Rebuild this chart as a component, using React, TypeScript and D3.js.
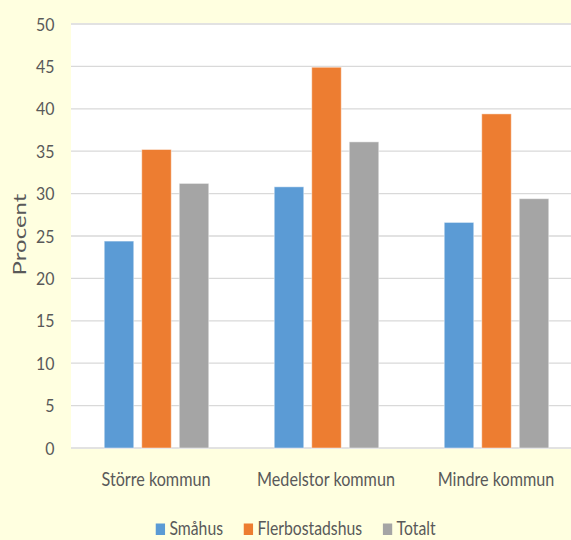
import React, { useEffect, useRef } from "react";
import * as d3 from "d3";

const categories = ["Större kommun", "Medelstor kommun", "Mindre kommun"];
const seriesNames = ["Småhus", "Flerbostadshus", "Totalt"];
const smahus = [24.4, 30.8, 26.6];
const flerbostadshus = [35.2, 44.9, 39.4];
const totalt = [31.2, 36.1, 29.4];
const yTicks = [0, 5, 10, 15, 20, 25, 30, 35, 40, 45, 50];
const seriesColors = ["#5B9BD5", "#ED7D31", "#A5A5A5"];
const yTitle = "Procent";

const W = 571;
const H = 540;
const FONT = "Lato, 'Open Sans', sans-serif";
const TEXT = "#595959";

export default function App() {
  const ref = useRef<SVGSVGElement>(null);

  useEffect(() => {
    const svg = d3.select(ref.current);
    svg.selectAll("*").remove();

    const seriesValues = [smahus, flerbostadshus, totalt];

    svg.append("rect").attr("width", W).attr("height", H).attr("fill", "#FFFFE0");

    const plotLeft = 71.5;
    const plotRight = 581.5;
    const x = d3.scaleBand<string>().domain(categories).range([plotLeft, plotRight]).padding(0);
    const xs = d3
      .scaleBand<string>()
      .domain(seriesNames)
      .range([0, x.bandwidth()])
      .paddingInner(0.2133)
      .paddingOuter(0.873);
    const y = d3.scaleLinear().domain([0, 50]).range([448, 24]);

    svg
      .append("rect")
      .attr("x", 71)
      .attr("y", y(50) - 1)
      .attr("width", W - 71)
      .attr("height", y(0) - y(50) + 2)
      .attr("fill", "#FFFFFF");

    // gridlines
    svg
      .append("g")
      .selectAll("line")
      .data(yTicks)
      .join("line")
      .attr("x1", 71)
      .attr("x2", W)
      .attr("y1", (d) => y(d))
      .attr("y2", (d) => y(d))
      .attr("stroke", "#D9D9D9")
      .attr("stroke-width", (d) => (d === 0 ? 1.6 : 1.3));

    // bars
    seriesNames.forEach((s, si) => {
      svg
        .append("g")
        .selectAll("rect")
        .data(categories)
        .join("rect")
        .attr("x", (c) => (x(c) as number) + (xs(s) as number))
        .attr("width", xs.bandwidth())
        .attr("y", (_c, i) => y(seriesValues[si][i]))
        .attr("height", (_c, i) => y(0) - y(seriesValues[si][i]))
        .attr("fill", seriesColors[si])
        .attr("stroke", "#FFFFFF")
        .attr("stroke-opacity", 0.45)
        .attr("stroke-width", 1);
    });

    // y tick labels
    svg
      .append("g")
      .selectAll("text")
      .data(yTicks)
      .join("text")
      .attr("transform", (d) => `translate(54.5,${y(d) + 6.5}) scale(0.9,1)`)
      .attr("text-anchor", "end")
      .attr("font-family", FONT)
      .attr("font-size", 17.7)
      .attr("fill", TEXT)
      .text((d) => String(d));

    // category labels
    svg
      .append("g")
      .selectAll("text")
      .data(categories)
      .join("text")
      .attr("transform", (c) => `translate(${(x(c) as number) + x.bandwidth() / 2 - 0.5},485.7) scale(0.83,1)`)
      .attr("text-anchor", "middle")
      .attr("font-family", FONT)
      .attr("font-size", 19.5)
      .attr("fill", TEXT)
      .text((c) => c);

    // y title
    svg
      .append("text")
      .attr("transform", `translate(26,234.5) rotate(-90) scale(1,0.74)`)
      .attr("text-anchor", "middle")
      .attr("font-family", FONT)
      .attr("font-size", 24)
      .attr("fill", TEXT)
      .text(yTitle);

    // legend
    const lg = svg.append("g");
    const sq = 9.3;
    const gapSqText = 4.4;
    const gapItem = 20.7;
    const legendSX = 0.83;
    const items = seriesNames.map((s, i) => {
      const g = lg.append("g");
      g.append("rect")
        .attr("x", 0)
        .attr("y", 523.5)
        .attr("width", sq)
        .attr("height", 11.5)
        .attr("fill", seriesColors[i]);
      const t = g
        .append("text")
        .attr("text-anchor", "start")
        .attr("font-family", FONT)
        .attr("font-size", 19)
        .attr("fill", TEXT)
        .text(s);
      const w = (t.node() as SVGTextElement).getComputedTextLength() * legendSX;
      t.attr("transform", `translate(${sq + gapSqText},535) scale(${legendSX},1)`);
      return { g, w: sq + gapSqText + w };
    });
    const total = items.reduce((a, b) => a + b.w, 0) + gapItem * (items.length - 1);
    let cx = 295.7 - total / 2;
    items.forEach((it) => {
      it.g.attr("transform", `translate(${cx},0)`);
      cx += it.w + gapItem;
    });
  }, []);

  return (
    <svg
      ref={ref}
      width={W}
      height={H}
      style={{ position: "absolute", left: 0, top: 0, display: "block" }}
    />
  );
}
